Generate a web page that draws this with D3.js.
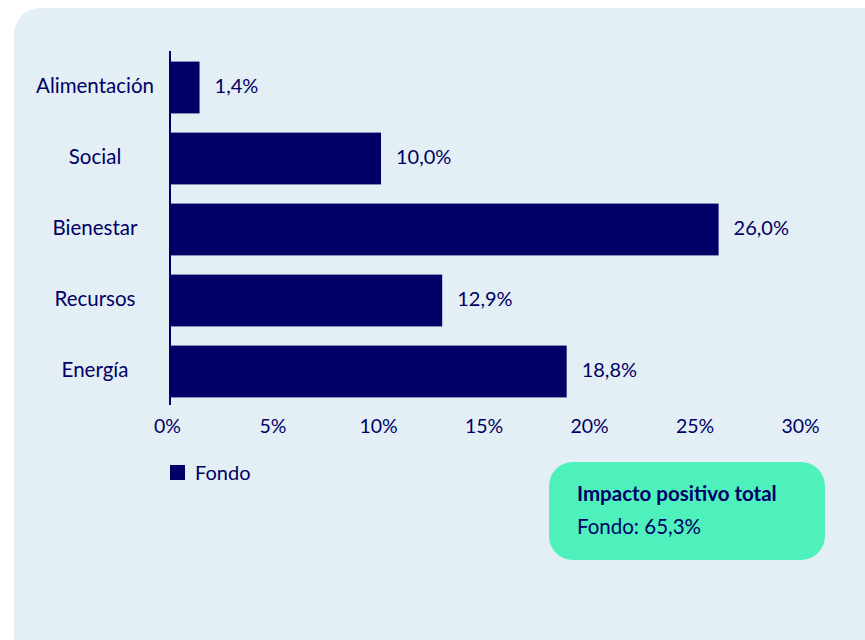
<!DOCTYPE html>
<html>
<head>
<meta charset="utf-8">
<script src="https://cdn.jsdelivr.net/npm/d3@7"></script>
<style>
  html, body { margin: 0; padding: 0; background: #ffffff; }
  svg { display: block; font-family: Lato, "Open Sans", sans-serif; }
</style>
</head>
<body>
<svg id="chart" width="865" height="640"></svg>
<script>
// Categories and fund impact share (%)
const categories = ["Alimentación", "Social", "Bienestar", "Recursos", "Energía"];
const fondoValues = [1.4, 10.0, 26.0, 12.9, 18.8];
const tickValues = [0, 5, 10, 15, 20, 25, 30];
const seriesName = "Fondo";
const totalTitle = "Impacto positivo total";
const totalValue = 65.3;

const navy = "#000066";
const font = "Lato, 'Open Sans', sans-serif";
const fmt = v => d3.format(".1f")(v).replace(".", ",") + "%";

const svg = d3.select("#chart");

// panel background
svg.append("rect")
  .attr("x", 14).attr("y", 8)
  .attr("width", 900).attr("height", 700)
  .attr("rx", 26).attr("ry", 26)
  .attr("fill", "#e3eff4");

const x = d3.scaleLinear().domain([0, 30]).range([170, 803]);
const y = d3.scaleBand().domain(categories).range([52, 407]).paddingInner(0.27).paddingOuter(0.135);

// bars
svg.append("g").selectAll("rect")
  .data(categories)
  .join("rect")
  .attr("x", x(0))
  .attr("y", d => y(d))
  .attr("width", (d, i) => x(fondoValues[i]) - x(0))
  .attr("height", y.bandwidth())
  .attr("fill", navy);

// value labels
svg.append("g").selectAll("text")
  .data(categories)
  .join("text")
  .attr("x", (d, i) => x(fondoValues[i]) + 15)
  .attr("y", d => y(d) + y.bandwidth() / 2 - 1.5)
  .attr("dy", "0.35em")
  .attr("font-size", 20)
  .attr("fill", navy)
  .text((d, i) => fmt(fondoValues[i]));

// category axis (labels centred in the left margin)
const yAxis = svg.append("g")
  .attr("transform", `translate(${x(0)},0)`)
  .call(d3.axisLeft(y).tickSize(0).tickPadding(0));
yAxis.select(".domain").attr("stroke", navy).attr("stroke-width", 2)
  .attr("d", "M0,51V405");
yAxis.selectAll(".tick text")
  .attr("x", 95 - x(0))
  .attr("y", -1.5)
  .attr("text-anchor", "middle")
  .attr("font-size", 20.5).attr("fill", navy)
  .attr("font-family", font);

// value axis
const xAxis = svg.append("g")
  .attr("transform", "translate(-3,405)")
  .call(d3.axisBottom(x).tickValues(tickValues).tickFormat(d => d + "%").tickSize(0).tickPadding(14));
xAxis.select(".domain").remove();
xAxis.selectAll("text").attr("font-size", 19.5).attr("fill", navy)
  .attr("font-family", font);

// legend
svg.append("rect").attr("x", 170).attr("y", 465).attr("width", 15).attr("height", 15).attr("fill", navy);
svg.append("text").attr("x", 195).attr("y", 472.5).attr("dy", "0.35em")
  .attr("font-size", 20).attr("fill", navy).text(seriesName);

// total impact box
svg.append("rect")
  .attr("x", 549).attr("y", 462).attr("width", 276).attr("height", 98)
  .attr("rx", 24).attr("ry", 24)
  .attr("fill", "#4ef0bc");
svg.append("text").attr("x", 577).attr("y", 493.5).attr("dy", "0.35em")
  .attr("font-size", 20.5).attr("font-weight", "bold").attr("fill", navy).text(totalTitle);
svg.append("text").attr("x", 577).attr("y", 527).attr("dy", "0.35em")
  .attr("font-size", 20.5).attr("fill", navy).text(seriesName + ": " + fmt(totalValue));
</script>
</body>
</html>
